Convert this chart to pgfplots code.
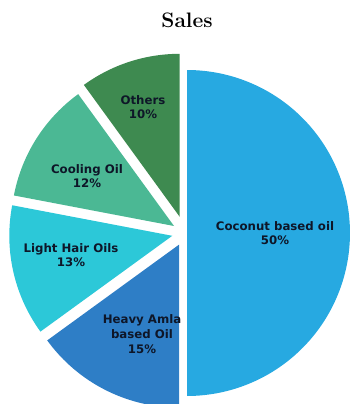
\documentclass[border=0pt]{standalone}
\usepackage{fontspec}
\usepackage{pgfplots}
\pgfplotsset{compat=1.18}
\newfontfamily\lab{DejaVu Sans}
\definecolor{cCoco}{HTML}{27A9E1}
\definecolor{cHeavy}{HTML}{2E7EC6}
\definecolor{cLight}{HTML}{2CC8D8}
\definecolor{cCool}{HTML}{4BB894}
\definecolor{cOth}{HTML}{3E8A50}
\definecolor{txt}{HTML}{0E1628}
\tikzset{lbl/.style={font=\lab\bfseries\fontsize{11.8}{14.8}\selectfont, text=txt, align=center, inner sep=0pt}}
\begin{document}
\begin{tikzpicture}
\begin{axis}[
  x=1bp, y=1bp, xmin=0, xmax=350, ymin=0, ymax=404,
  hide axis, clip=true
]
\path (axis cs:0,0) rectangle (axis cs:350,404);
% Shares (%): Coconut 50, Others 10, Cooling 12, Light Hair 13, Heavy Amla 15
% Coconut based oil 50% : -90 .. 90
\addplot[fill=cCoco, draw=none, domain=-90:90, samples=120, variable=\t]
  ({187+163*cos(\t)}, {171+163*sin(\t)}) -- (axis cs:187,171) -- cycle;
% Others 10% : 90 .. 126
\addplot[fill=cOth, draw=none, domain=90:126, samples=40, variable=\t]
  ({179.7+163*cos(\t)}, {187.2+163*sin(\t)}) -- (axis cs:179.7,187.2) -- cycle;
% Cooling Oil 12% : 126 .. 169.2
\addplot[fill=cCool, draw=none, domain=126:169.2, samples=40, variable=\t]
  ({174.0+163*cos(\t)}, {178.0+163*sin(\t)}) -- (axis cs:174.0,178.0) -- cycle;
% Light Hair Oils 13% : 169.2 .. 216
\addplot[fill=cLight, draw=none, domain=169.2:216, samples=40, variable=\t]
  ({172.3+163*cos(\t)}, {168.2+163*sin(\t)}) -- (axis cs:172.3,168.2) -- cycle;
% Heavy Amla based Oil 15% : 216 .. 270
\addplot[fill=cHeavy, draw=none, domain=216:270, samples=50, variable=\t]
  ({179.1+163*cos(\t)}, {159.4+163*sin(\t)}) -- (axis cs:179.1,159.4) -- cycle;

\node[lbl] at (axis cs:275,171) {Coconut based oil\\50\%};
\node[lbl] at (axis cs:143,297) {Others\\10\%};
\node[lbl] at (axis cs:87,228) {Cooling Oil\\12\%};
\node[lbl] at (axis cs:71,149) {Light Hair Oils\\13\%};
\node[lbl] at (axis cs:142,70) {Heavy Amla\\based Oil\\15\%};
\node[font=\bfseries\fontsize{21}{24}\selectfont, text=black] at (axis cs:187,384) {Sales};
\end{axis}
\end{tikzpicture}
\end{document}
